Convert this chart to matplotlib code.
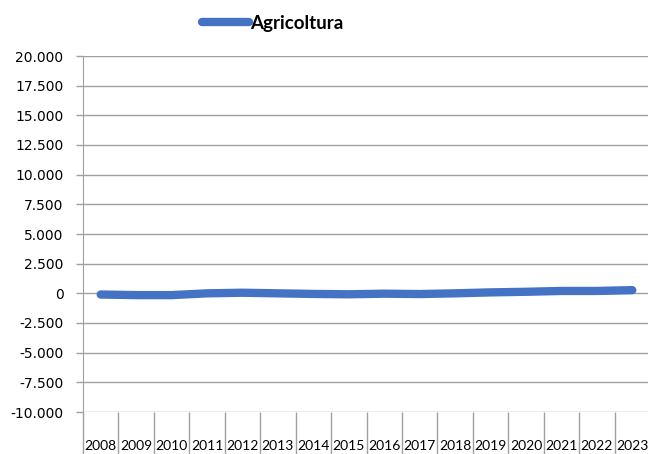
import matplotlib
matplotlib.use("Agg")
import matplotlib.pyplot as plt
from matplotlib.ticker import FuncFormatter
import numpy as np

years = [str(y) for y in range(2008, 2024)]
agricoltura = [-100, -150, -150, 0, 50, 0, -50, -80, -30, -60, 0, 80, 130, 200, 200, 270]
y_ticks = list(range(-10000, 20001, 2500))

plt.rcParams['font.family'] = ['DejaVu Sans']

W, H = 648, 454
fig = plt.figure(figsize=(W / 100, H / 100), dpi=100)
ax = fig.add_axes([83 / W, 42 / H, (650 - 83) / W, (412 - 56) / H])

x = np.arange(len(years))
ax.plot(x, agricoltura, color='#4472C4', lw=6, solid_capstyle='round',
        solid_joinstyle='round', zorder=3, label='Agricoltura')

ax.set_xlim(-0.5, len(years) - 0.5)
ax.set_ylim(y_ticks[0], y_ticks[-1])
ax.set_yticks(y_ticks)
ax.yaxis.set_major_formatter(FuncFormatter(lambda v, p: f"{int(v):,}".replace(',', '.')))
ax.grid(axis='y', color='#a0a0a0', lw=1)
ax.set_axisbelow(True)

# category labels centred, separators at the category boundaries
ax.set_xticks(x)
ax.set_xticklabels(years, family=['Lato', 'DejaVu Sans'], fontsize=10)
ax.tick_params(axis='x', which='major', length=0, pad=20, colors='black')
ax.set_xticks(np.arange(len(years) + 1) - 0.5, minor=True)
ax.tick_params(axis='x', which='minor', length=32, width=1, color='#a0a0a0')
ax.tick_params(axis='y', length=5, width=1, color='#a0a0a0', labelsize=10, pad=9)

for s in ['top', 'right', 'bottom']:
    ax.spines[s].set_visible(False)
ax.spines['left'].set_color('#a0a0a0')

leg = fig.legend(loc='center', bbox_to_anchor=(0.421, 1 - 23 / H), frameon=False,
                 handlelength=2.5, handletextpad=0.05,
                 prop={'family': ['Lato', 'DejaVu Sans'], 'weight': 'bold', 'size': 13.5})

fig.savefig('out.png', dpi=100)
